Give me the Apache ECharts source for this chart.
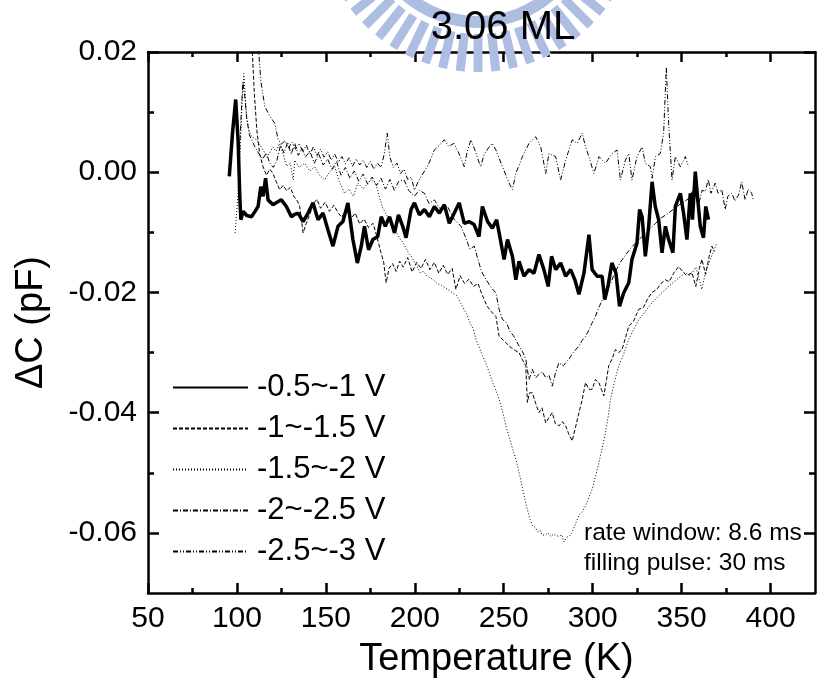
<!DOCTYPE html>
<html><head><meta charset="utf-8">
<script src="https://cdn.jsdelivr.net/npm/echarts@6/dist/echarts.min.js"></script>
<style>html,body{margin:0;padding:0;background:#fff}#c{width:818px;height:688px}</style>
</head><body><div id="c"></div>
<script>
// ---- axis ticks ----
const xMajor = [50,100,150,200,250,300,350,400];
const xMinor = [75,125,175,225,275,325,375];
const yMajor = [-0.06,-0.04,-0.02,0,0.02];
const yMinor = [-0.05,-0.03,-0.01,0.01];
const seriesNames = ['-0.5~-1 V','-1~-1.5 V','-1.5~-2 V','-2~-2.5 V','-2.5~-3 V'];

// ---- data: [Temperature (K), ΔC (pF)] ----
const solid05to1 = [[95.7,-0.0007],[97.5,0.0065],[99.3,0.0121],[100.7,0.005],[101.6,-0.004],[102.2,-0.0079],[103.5,-0.0065],[105.5,-0.0072],[108.2,-0.0074],[110,-0.0066],[111.9,-0.0057],[113.4,-0.0024],[114.7,-0.0040],[116.1,-0.0010],[117.5,-0.0046],[120.3,-0.0054],[122.5,-0.0050],[125,-0.0046],[127.8,-0.0057],[130.6,-0.0074],[132.5,-0.0070],[134.4,-0.0068],[137.2,-0.0082],[140,-0.0068],[142.8,-0.0051],[145.6,-0.0079],[148.4,-0.0068],[151.2,-0.0096],[154,-0.0123],[156.8,-0.0090],[159.6,-0.0082],[162.4,-0.0051],[165.2,-0.0112],[167.7,-0.0151],[169.9,-0.0123],[171.7,-0.0090],[174,-0.0129],[176.4,-0.0112],[179.2,-0.0107],[181.1,-0.0074],[183.4,-0.0090],[185.8,-0.0074],[188.6,-0.0101],[190.8,-0.0071],[193.2,-0.0090],[195.1,-0.0109],[197.9,-0.0062],[199.8,-0.0051],[202.6,-0.0071],[205.4,-0.0062],[208.2,-0.0074],[211,-0.0057],[213.8,-0.0068],[216.6,-0.0054],[219.4,-0.0085],[222.2,-0.0068],[225,-0.0051],[227.8,-0.0085],[230.5,-0.0082],[233.3,-0.0087],[236.1,-0.0107],[238,-0.0057],[240.9,-0.0082],[243.6,-0.0093],[246,-0.0079],[247.4,-0.0101],[250.2,-0.0145],[252.1,-0.0112],[254.9,-0.0140],[256.8,-0.0179],[258.6,-0.0148],[261.4,-0.0173],[264.2,-0.0162],[267,-0.0168],[269.8,-0.0137],[272.6,-0.0162],[275,-0.0190],[276.9,-0.0140],[279.2,-0.0162],[282,-0.0151],[284.8,-0.0173],[287.6,-0.0162],[290,-0.0179],[292.3,-0.0203],[295.1,-0.0168],[297.9,-0.0104],[299.7,-0.0162],[302.5,-0.0173],[305.3,-0.0173],[306.8,-0.0212],[308.6,-0.0190],[310.8,-0.0151],[313.1,-0.0168],[315.1,-0.0223],[317.4,-0.0201],[320.3,-0.0184],[322.1,-0.0145],[324.9,-0.0118],[326.4,-0.0062],[327.8,-0.0074],[329.6,-0.0140],[331.5,-0.0090],[333.4,-0.0016],[335.2,-0.0057],[337.1,-0.0079],[339,-0.0134],[340.9,-0.0090],[342.7,-0.0112],[345.1,-0.0134],[346.5,-0.0057],[349.3,-0.0035],[351.1,-0.0068],[353,-0.0112],[354.9,-0.0035],[356.1,-0.0079],[357.7,0.0001],[359.1,-0.0046],[360.5,-0.0090],[362.3,-0.0109],[363.6,-0.0057],[365.1,-0.0079]];

const dashed1to15 = [[107.3,0.030],[108.5,0.021],[109.8,0.013],[111.2,0.007],[112.8,0.003],[114.7,0.0009],[116.6,-0.0005],[118.5,0.0005],[120.3,-0.0002],[122,-0.0015],[124,-0.0029],[126,-0.0022],[128,-0.0031],[130,-0.0025],[132,-0.0040],[134,-0.0048],[135.3,-0.0057],[137.2,-0.0101],[139,-0.0085],[141,-0.0070],[143,-0.0052],[145,-0.0045],[147,-0.0060],[149.6,-0.0050],[152,-0.0065],[154.5,-0.0055],[157,-0.0068],[159,-0.0075],[161.5,-0.0060],[164,-0.0078],[166.5,-0.0068],[169,-0.0086],[171.5,-0.0078],[174,-0.0092],[176.5,-0.0085],[178.5,-0.0105],[181,-0.0134],[182.5,-0.0150],[183.9,-0.0184],[185.5,-0.0160],[187.5,-0.0152],[189.5,-0.0165],[191.5,-0.0148],[193.5,-0.0158],[196,-0.0142],[198.5,-0.0166],[201,-0.0150],[203.5,-0.0160],[206,-0.0145],[208.5,-0.0162],[211,-0.0150],[213.5,-0.0168],[216,-0.0155],[218.5,-0.0170],[221,-0.0160],[223.1,-0.0195],[225.5,-0.0172],[228,-0.0185],[230.5,-0.0178],[233,-0.0190],[235.5,-0.0185],[238,-0.0205],[240.5,-0.0222],[243,-0.0232],[245.6,-0.0240],[247.4,-0.0273],[250,-0.0280],[253,-0.0289],[255.5,-0.0295],[258.6,-0.0300],[260.5,-0.0312],[262.4,-0.0322],[263.3,-0.0383],[264.5,-0.0367],[266.1,-0.0367],[268,-0.0385],[269.8,-0.0400],[271.5,-0.0392],[273.6,-0.0417],[275.5,-0.0408],[277.3,-0.0400],[279,-0.0418],[281,-0.0422],[283,-0.0415],[284.8,-0.0422],[286.5,-0.0435],[288.5,-0.0447],[290.3,-0.0425],[292.3,-0.0400],[294,-0.0380],[296,-0.0350],[297.9,-0.0361],[299.8,-0.0361],[301.5,-0.0345],[303.5,-0.0350],[305,-0.0362],[306.3,-0.0372],[307.8,-0.0345],[309,-0.0322],[311,-0.0310],[312.8,-0.0295],[314.7,-0.0300],[316.5,-0.0295],[318.5,-0.0275],[320.3,-0.0256],[323,-0.0248],[325.9,-0.0228],[328.5,-0.0225],[331,-0.0210],[333.4,-0.0200],[336,-0.0195],[338.5,-0.0185],[340.9,-0.0179],[343,-0.0182],[345.5,-0.0168],[348.3,-0.0157],[350.5,-0.0165],[353,-0.0172],[355.8,-0.0167],[358,-0.0190],[360,-0.0160],[361.4,-0.0145],[363.5,-0.0170],[365.5,-0.0140],[367,-0.0123],[368.5,-0.0132]];

const dotted15to2 = [[99,-0.0101],[100.5,-0.004],[102,0.005],[103,0.0120],[103.9,0.0164],[104.6,0.0130],[105.4,0.0092],[106.8,0.0070],[108.2,0.0059],[111,0.0054],[113,0.0045],[114.7,0.0037],[117,0.0025],[120.3,0.0042],[122,0.0035],[124,0.0048],[126,0.0030],[128,0.0010],[130,0.0015],[131.6,-0.0013],[132.5,0.0020],[135,0.0008],[138,0.0015],[141,0.0002],[143.7,0.0009],[146.5,-0.0005],[149.3,-0.0013],[152,0.0000],[155,0.0009],[157.5,-0.0015],[160.5,-0.0035],[163,-0.0028],[165.5,-0.0040],[168,-0.0018],[171,-0.0028],[173,-0.0020],[175.5,-0.0013],[178,-0.0018],[180,-0.0040],[182,-0.0060],[184,-0.0070],[186,-0.0085],[188,-0.0092],[190,-0.0102],[192,-0.0112],[194,-0.0120],[196,-0.0132],[198,-0.0140],[200,-0.0150],[203,-0.0167],[205,-0.0165],[207,-0.0173],[210,-0.0178],[212.5,-0.0185],[215,-0.0188],[218.4,-0.0195],[221,-0.0200],[223.5,-0.0205],[226.8,-0.0223],[229,-0.0235],[231,-0.0250],[233,-0.0262],[234.4,-0.0278],[236,-0.0290],[238,-0.0305],[240,-0.0318],[241.8,-0.0333],[243.5,-0.0348],[245.5,-0.0362],[247.4,-0.0378],[249.5,-0.0400],[251.5,-0.0425],[253.5,-0.0445],[255.2,-0.0462],[256.8,-0.0477],[258.6,-0.0499],[260.5,-0.0525],[262.5,-0.0552],[264.5,-0.0575],[266.1,-0.0588],[267.5,-0.0590],[269,-0.0598],[270.5,-0.0596],[271.7,-0.0604],[273.5,-0.0603],[275,-0.0600],[276.5,-0.0606],[278,-0.0602],[279.2,-0.0604],[281,-0.0606],[282.5,-0.0603],[283.9,-0.0615],[285.5,-0.0607],[287,-0.0605],[288.5,-0.0599],[290.3,-0.0585],[292.3,-0.0571],[294.2,-0.0565],[296,-0.0555],[298,-0.0540],[299.8,-0.0527],[301.7,-0.0505],[303.5,-0.0483],[305.4,-0.0458],[307.2,-0.0433],[308.8,-0.0405],[310,-0.0378],[312.3,-0.0348],[314.7,-0.0322],[317.5,-0.0302],[320.3,-0.0278],[323,-0.0262],[325.9,-0.0245],[329.5,-0.0232],[333.4,-0.0217],[338,-0.0203],[342.7,-0.0190],[347.5,-0.0178],[352.1,-0.0167],[355,-0.0172],[358,-0.0158],[361.4,-0.0195],[363.5,-0.0165],[365.5,-0.0150],[367.5,-0.0135],[369.5,-0.0120]];

const dashdot2to25 = [[101.3,0.0020],[102.3,0.0090],[103.3,0.0150],[104.3,0.0130],[105.5,0.0090],[107,0.0062],[108.5,0.0052],[110.5,0.0040],[112.5,0.0030],[114.5,0.0022],[116.5,0.0032],[118.5,0.0015],[120.5,0.0008],[122.5,0.0020],[124.5,0.0045],[126.5,0.0032],[128.5,0.0050],[130.5,0.0030],[132.5,0.0048],[134.5,0.0028],[136.5,0.0040],[138.5,0.0025],[141,0.0035],[143.5,0.0015],[146,0.0030],[148.5,0.0012],[151,0.0022],[153.5,0.0005],[156,0.0018],[158.5,-0.0005],[161,0.0008],[163.5,-0.0010],[166,0.0002],[168.5,-0.0015],[171,-0.0003],[173.5,-0.0020],[176,-0.0008],[178.5,-0.0022],[181,-0.0010],[183.5,-0.0028],[186,-0.0012],[188.5,-0.0030],[191,-0.0015],[194,-0.0013],[196.5,-0.0030],[199.8,-0.0040],[202.5,-0.0030],[205.4,-0.0035],[208,-0.0052],[211,-0.0046],[214,-0.0060],[218.4,-0.0057],[222,-0.0078],[226,-0.0090],[228.5,-0.0108],[231,-0.0128],[233.4,-0.0123],[235.5,-0.0145],[237.5,-0.0165],[240,-0.0178],[242.5,-0.0190],[245.6,-0.0201],[247.4,-0.0228],[249.3,-0.0245],[251.5,-0.0250],[253.5,-0.0265],[255.5,-0.0272],[258.6,-0.0289],[260.5,-0.0298],[262.4,-0.0311],[264.2,-0.0345],[266.1,-0.0328],[268,-0.0342],[269.8,-0.0336],[271.7,-0.0332],[273.6,-0.0342],[275.5,-0.0338],[277.3,-0.0356],[279,-0.0335],[281,-0.0317],[283.5,-0.0322],[286.6,-0.0311],[289,-0.0300],[292.3,-0.0289],[294,-0.0280],[296,-0.0273],[298,-0.0262],[299.8,-0.0250],[301.5,-0.0240],[303.5,-0.0225],[305.5,-0.0212],[307.2,-0.0200],[310,-0.0185],[312.8,-0.0165],[315.5,-0.0150],[318.4,-0.0138],[321,-0.0128],[324,-0.0118],[327.8,-0.0107],[331,-0.0098],[335.3,-0.0085],[338.5,-0.0076],[342.7,-0.0068],[346,-0.0060],[350.2,-0.0051],[353.5,-0.0045],[356,-0.0032],[357.7,-0.0040],[359.5,-0.0055],[361.5,-0.0030],[363.3,-0.0032],[365,-0.0012],[366.5,-0.0035],[368.9,-0.0018],[370.5,-0.0035],[372.6,-0.0029],[374.5,-0.0062],[376,-0.0040],[378.2,-0.0035],[380,-0.0048],[382,-0.0038],[383.8,-0.0016],[385.7,-0.0046],[387.5,-0.0028],[389.4,-0.0035],[390.3,-0.0046]];

const dashdotdot25to3 = [[110.8,0.030],[112,0.021],[113.5,0.0150],[115.7,0.0109],[118,0.0096],[121.3,0.0081],[123.2,0.0054],[125,0.0047],[127,0.0052],[129,0.0040],[131,0.0050],[133,0.0038],[135,0.0048],[137,0.0034],[139,0.0045],[141,0.0030],[143,0.0042],[145,0.0028],[147,0.0038],[149,0.0025],[151,0.0034],[153,0.0020],[155,0.0030],[157,0.0017],[159,0.0026],[161,0.0014],[163,0.0024],[165,0.0010],[167,0.0022],[169,0.0012],[171,0.0020],[173,0.0008],[175,0.0018],[177,0.0005],[179,0.0015],[181,0.0008],[182.8,0.0030],[184.5,0.0065],[186,0.0025],[188,0.0008],[190,0.0015],[192,-0.0002],[194,0.0005],[196,-0.0012],[198,-0.0008],[199.8,-0.0030],[202,-0.0015],[204,-0.0005],[207,0.0009],[209,0.0022],[211,0.0037],[213.5,0.0044],[216.6,0.0054],[219,0.0043],[222,0.0048],[225,0.0030],[227.8,0.0009],[229.5,0.0035],[231.6,0.0054],[234,0.0035],[237,0.0009],[239,0.0030],[241.8,0.0042],[243.5,0.0048],[245.6,0.0037],[249.3,0.0009],[253,-0.0018],[254.9,-0.0029],[256.8,-0.0002],[260.5,0.0026],[264.2,0.0048],[268,0.0059],[270.8,0.0042],[273.6,-0.0002],[275.4,0.0031],[279.2,0.0026],[282,-0.0013],[284.8,0.0020],[288.5,0.0054],[291.3,0.0048],[294.1,0.0065],[296,0.0042],[297.9,0.0026],[300.7,-0.0002],[303.5,0.0026],[307.2,0.0015],[310.9,0.0031],[313.7,0.0037],[315.6,-0.0013],[318.4,0.0020],[320.3,0.0031],[322.1,-0.0013],[324.9,0.0026],[327.8,0.0042],[329.6,0.0015],[332.5,0.0009],[333.4,-0.0010],[335.3,0.0026],[338,0.0031],[339.9,0.0065],[341.4,0.0175],[342.7,0.0081],[344.6,-0.0013],[346.5,0.0026],[349.3,0.0009],[352.1,0.0026],[353.9,0.0009]];

// ---- chart ----
const FONT = '"Liberation Sans", Arial, sans-serif';
const K = '#000';
const chart = echarts.init(document.getElementById('c'), null, {renderer:'canvas', width:818, height:688});

function xAxisDef(pos, ticks, len, withLabel) {
  const a = {
    type:'value', position:pos, min:50, max:425, gridIndex:0,
    axisLine:{show:withLabel!==null, onZero:false, lineStyle:{color:K, width:2.5}},
    axisTick:{show:true, inside:true, length:len, customValues:ticks, lineStyle:{color:K, width:2.5}},
    axisLabel:{show:false},
    splitLine:{show:false}
  };
  if (withLabel) {
    a.axisLabel = {show:true, customValues:ticks, fontSize:30, fontFamily:FONT, color:K, margin:11};
    a.name = 'Temperature (K)';
    a.nameLocation = 'middle';
    a.nameGap = 48;
    a.nameMoveOverlap = false;
    a.nameTextStyle = {fontSize:38, fontFamily:FONT, color:K, padding:[0,0,0,30]};
  }
  return a;
}
function yAxisDef(pos, ticks, len, withLabel) {
  const a = {
    type:'value', position:pos, min:-0.07, max:0.02, gridIndex:0,
    axisLine:{show:withLabel!==null, onZero:false, lineStyle:{color:K, width:2.5}},
    axisTick:{show:true, inside:true, length:len, customValues:ticks, lineStyle:{color:K, width:2.5}},
    axisLabel:{show:false},
    splitLine:{show:false}
  };
  if (withLabel) {
    a.axisLabel = {show:true, customValues:ticks, fontSize:30, fontFamily:FONT, color:K, margin:11,
      formatter: v => v.toFixed(2)};
    a.name = 'ΔC (pF)';
    a.nameLocation = 'middle';
    a.nameGap = 97;
    a.nameMoveOverlap = false;
    a.nameTextStyle = {fontSize:38, fontFamily:FONT, color:K};
  }
  return a;
}

const styles = [
  {width:3.5, type:'solid'},
  {width:1, type:[4,2]},
  {width:1, type:[1,2]},
  {width:1, type:[5,2,1,2]},
  {width:1, type:[5,2,1,2,1,2]}
];
const datasets = [solid05to1, dashed1to15, dotted15to2, dashdot2to25, dashdotdot25to3];

const series = datasets.map((d, i) => ({
  name: seriesNames[i], type:'line', data:d, xAxisIndex:0, yAxisIndex:0,
  symbol:'none', showSymbol:false, clip:true, smooth:false,
  z: i === 0 ? 5 : 3,
  lineStyle:{color:K, width:styles[i].width, type:styles[i].type},
  itemStyle:{color:K},
  emphasis:{disabled:true}
}));

// watermark logo (decorative)
const LOGO = '#aebde2';
const logo = [];
const LCX = 478, LCY = -88, ROUT = 160, TLEN = 38;
for (let a = -64; a <= 64.1; a += 6.4) {
  logo.push({type:'rect', x:LCX, y:LCY, rotation: a*Math.PI/180, z:50, silent:true,
    shape:{x:-4.5, y:ROUT-TLEN, width:9, height:TLEN},
    style:{fill:LOGO}});
}
logo.push({type:'arc', z:50, silent:true, shape:{cx:LCX, cy:LCY, r:110, startAngle:0, endAngle:Math.PI},
  style:{stroke:LOGO, lineWidth:12, fill:null}});

const option = {
  animation:false,
  backgroundColor:'#fff',
  grid:{left:148, top:52, right:3, bottom:95, containLabel:false},
  xAxis:[
    xAxisDef('bottom', xMajor, 10, true),
    xAxisDef('bottom', xMinor, 5, null),
    xAxisDef('top', xMajor, 10, false),
    xAxisDef('top', xMinor, 5, null)
  ],
  yAxis:[
    yAxisDef('left', yMajor, 11, true),
    yAxisDef('left', yMinor, 6, null),
    yAxisDef('right', yMajor, 11, false),
    yAxisDef('right', yMinor, 6, null)
  ],
  legend:{
    data: seriesNames, orient:'vertical', left:172, top:372, itemWidth:75, itemHeight:14, itemGap:10,
    padding:0, selectedMode:false,
    itemStyle:{opacity:0, borderWidth:0},
    textStyle:{fontSize:31, fontFamily:FONT, color:K, lineHeight:30, padding:[0,0,0,4]}
  },
  graphic:[
    ...logo,
    {type:'text', z:60, x:503, y:28, style:{text:'3.06 ML', font:'40px "Liberation Sans", Arial, sans-serif', fill:K, textAlign:'center', textVerticalAlign:'middle'}},
    {type:'text', z:60, x:584, y:533, style:{text:'rate window: 8.6 ms', font:'24.5px "Liberation Sans", Arial, sans-serif', fill:K, textAlign:'left', textVerticalAlign:'middle'}},
    {type:'text', z:60, x:584, y:563, style:{text:'filling pulse: 30 ms', font:'24.5px "Liberation Sans", Arial, sans-serif', fill:K, textAlign:'left', textVerticalAlign:'middle'}}
  ],
  series: series
};
chart.setOption(option);
</script>
</body></html>
